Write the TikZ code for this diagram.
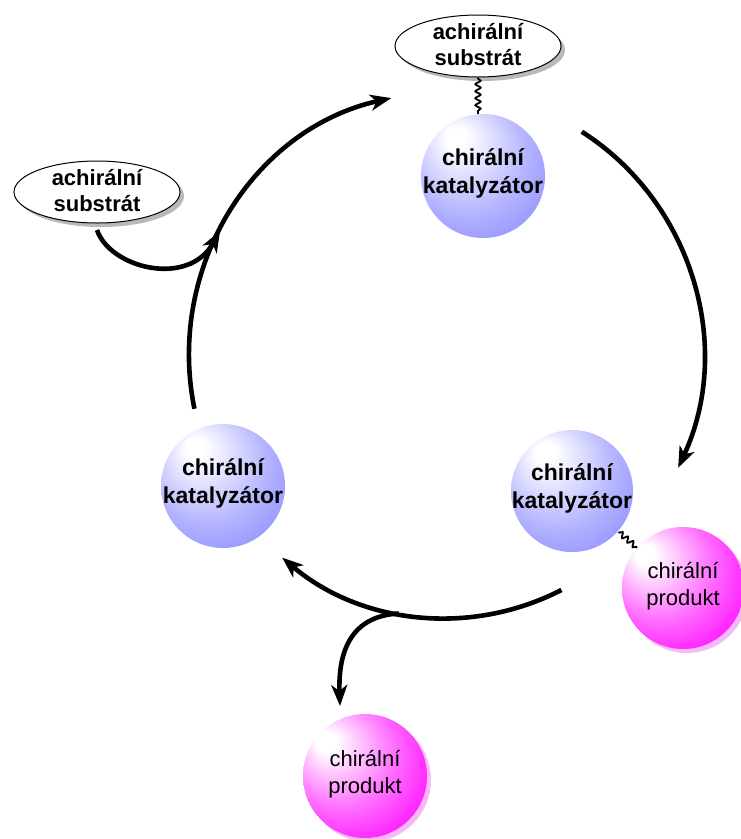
\documentclass[tikz,border=0pt]{standalone}
\usepackage{fontspec}
\setmainfont{Liberation Sans}
\usetikzlibrary{arrows.meta,decorations.pathmorphing,shapes.geometric,shadows,calc}
\definecolor{catblue}{RGB}{110,110,255}
\definecolor{prodmag}{RGB}{255,0,255}
\definecolor{shadowgray}{RGB}{185,185,185}
\definecolor{prodshadow}{RGB}{247,185,247}
\pgfdeclareradialshading{bluesphere}{\pgfpoint{-12bp}{17bp}}{%
  color(0bp)=(white); color(4bp)=(white); color(24bp)=(catblue!52); color(44bp)=(catblue!92); color(50bp)=(catblue)}
\pgfdeclareradialshading{prodsphere}{\pgfpoint{-17bp}{15bp}}{%
  color(0bp)=(white); color(4bp)=(white); color(21bp)=(prodmag!55); color(36bp)=(prodmag!95); color(50bp)=(prodmag)}
\tikzset{
  x=1pt, y=1pt,
  catball/.style={circle, minimum size=124pt, inner sep=0pt, shading=bluesphere},
  prodball/.style={circle, minimum size=124pt, inner sep=0pt, shading=prodsphere,
    drop shadow={shadow xshift=4pt, shadow yshift=-4pt, fill=prodshadow, opacity=1}},
  subell/.style={ellipse, draw=black, line width=1pt, fill=white, minimum width=166pt, minimum height=62pt, inner sep=0pt,
    drop shadow={shadow xshift=4pt, shadow yshift=-4pt, fill=shadowgray, opacity=1}},
  cattext/.style={align=center, inner sep=0pt, yshift=3pt, font=\bfseries\fontsize{23}{28}\selectfont},
  prodtext/.style={align=center, inner sep=0pt, yshift=2pt, font=\fontsize{22}{27}\selectfont},
  subtext/.style={align=center, inner sep=0pt, yshift=1pt, font=\bfseries\fontsize{22}{26}\selectfont},
  flow/.style={line width=4.6pt, -{Stealth[length=21pt,width=16pt,inset=6pt]}},
  wavy/.style={decorate, decoration={snake, amplitude=2.6pt, segment length=7pt, pre length=1pt, post length=1pt}, line width=1.8pt},
}
\begin{document}
\begin{tikzpicture}
\useasboundingbox (0,0) rectangle (741,-839);
\fill[white] (0,0) rectangle (741,-839);

% cycle centre
\coordinate (C) at (446,-355);

% nodes
\node[subell] (topsub) at (478,-46) {};
\node[subtext] (topsubt) at (topsub) {achirální\\substrát};
\node[subell] (lsub) at (97,-192) {};
\node[subtext] (lsubt) at (lsub) {achirální\\substrát};

\node[catball] (cat1) at (483,-176) {};
\node[cattext] (cat1t) at (cat1) {chirální\\katalyzátor};
\node[catball] (cat2) at (223,-486) {};
\node[cattext] (cat2t) at (cat2) {chirální\\katalyzátor};
\node[catball, minimum size=122pt] (cat3) at (572,-491) {};
\node[cattext] (cat3t) at (cat3) {chirální\\katalyzátor};

\node[prodball, minimum size=122pt] (prod1) at (683,-588) {};
\node[prodtext] (prod1t) at (prod1) {chirální\\produkt};
\node[prodball] (prod2) at (365,-776) {};
\node[prodtext] (prod2t) at (prod2) {chirální\\produkt};

% wavy bonds
\draw[wavy] (topsub.south) -- (topsub.south |- cat1.north);
\path (cat3) ++(-41.3:62) coordinate (w1) (prod1) ++(138.7:61) coordinate (w2);
\draw[wavy] (w1) -- (w2);

% cycle arrows
\coordinate (a1) at ($(C)+(191.8:257 and 263)$);
\coordinate (a2) at ($(C)+(58.1:257 and 263)$);
\coordinate (a3) at ($(C)+(-63.3:257 and 263)$);
\coordinate (J) at ($(C)+(-100.6:257 and 263)$);
\draw[flow] (a1) arc[start angle=191.8, end angle=102.3, x radius=257, y radius=263];
\draw[flow] (a2) arc[start angle=58.1, end angle=-25.4, x radius=257, y radius=263];
\draw[flow] (a3) arc[start angle=-63.3, end angle=-129.6, x radius=257, y radius=263];

% branch to product
\coordinate (b2) at (340,-706);
\draw[flow] (J) .. controls (352,-616) and (338,-650) .. (b2);

% incoming substrate
\coordinate (s1) at (97,-230);
\coordinate (s2) at (220,-231);
\draw[flow] (s1) .. controls (110,-268) and (188,-288) .. (s2);
\end{tikzpicture}
\end{document}
